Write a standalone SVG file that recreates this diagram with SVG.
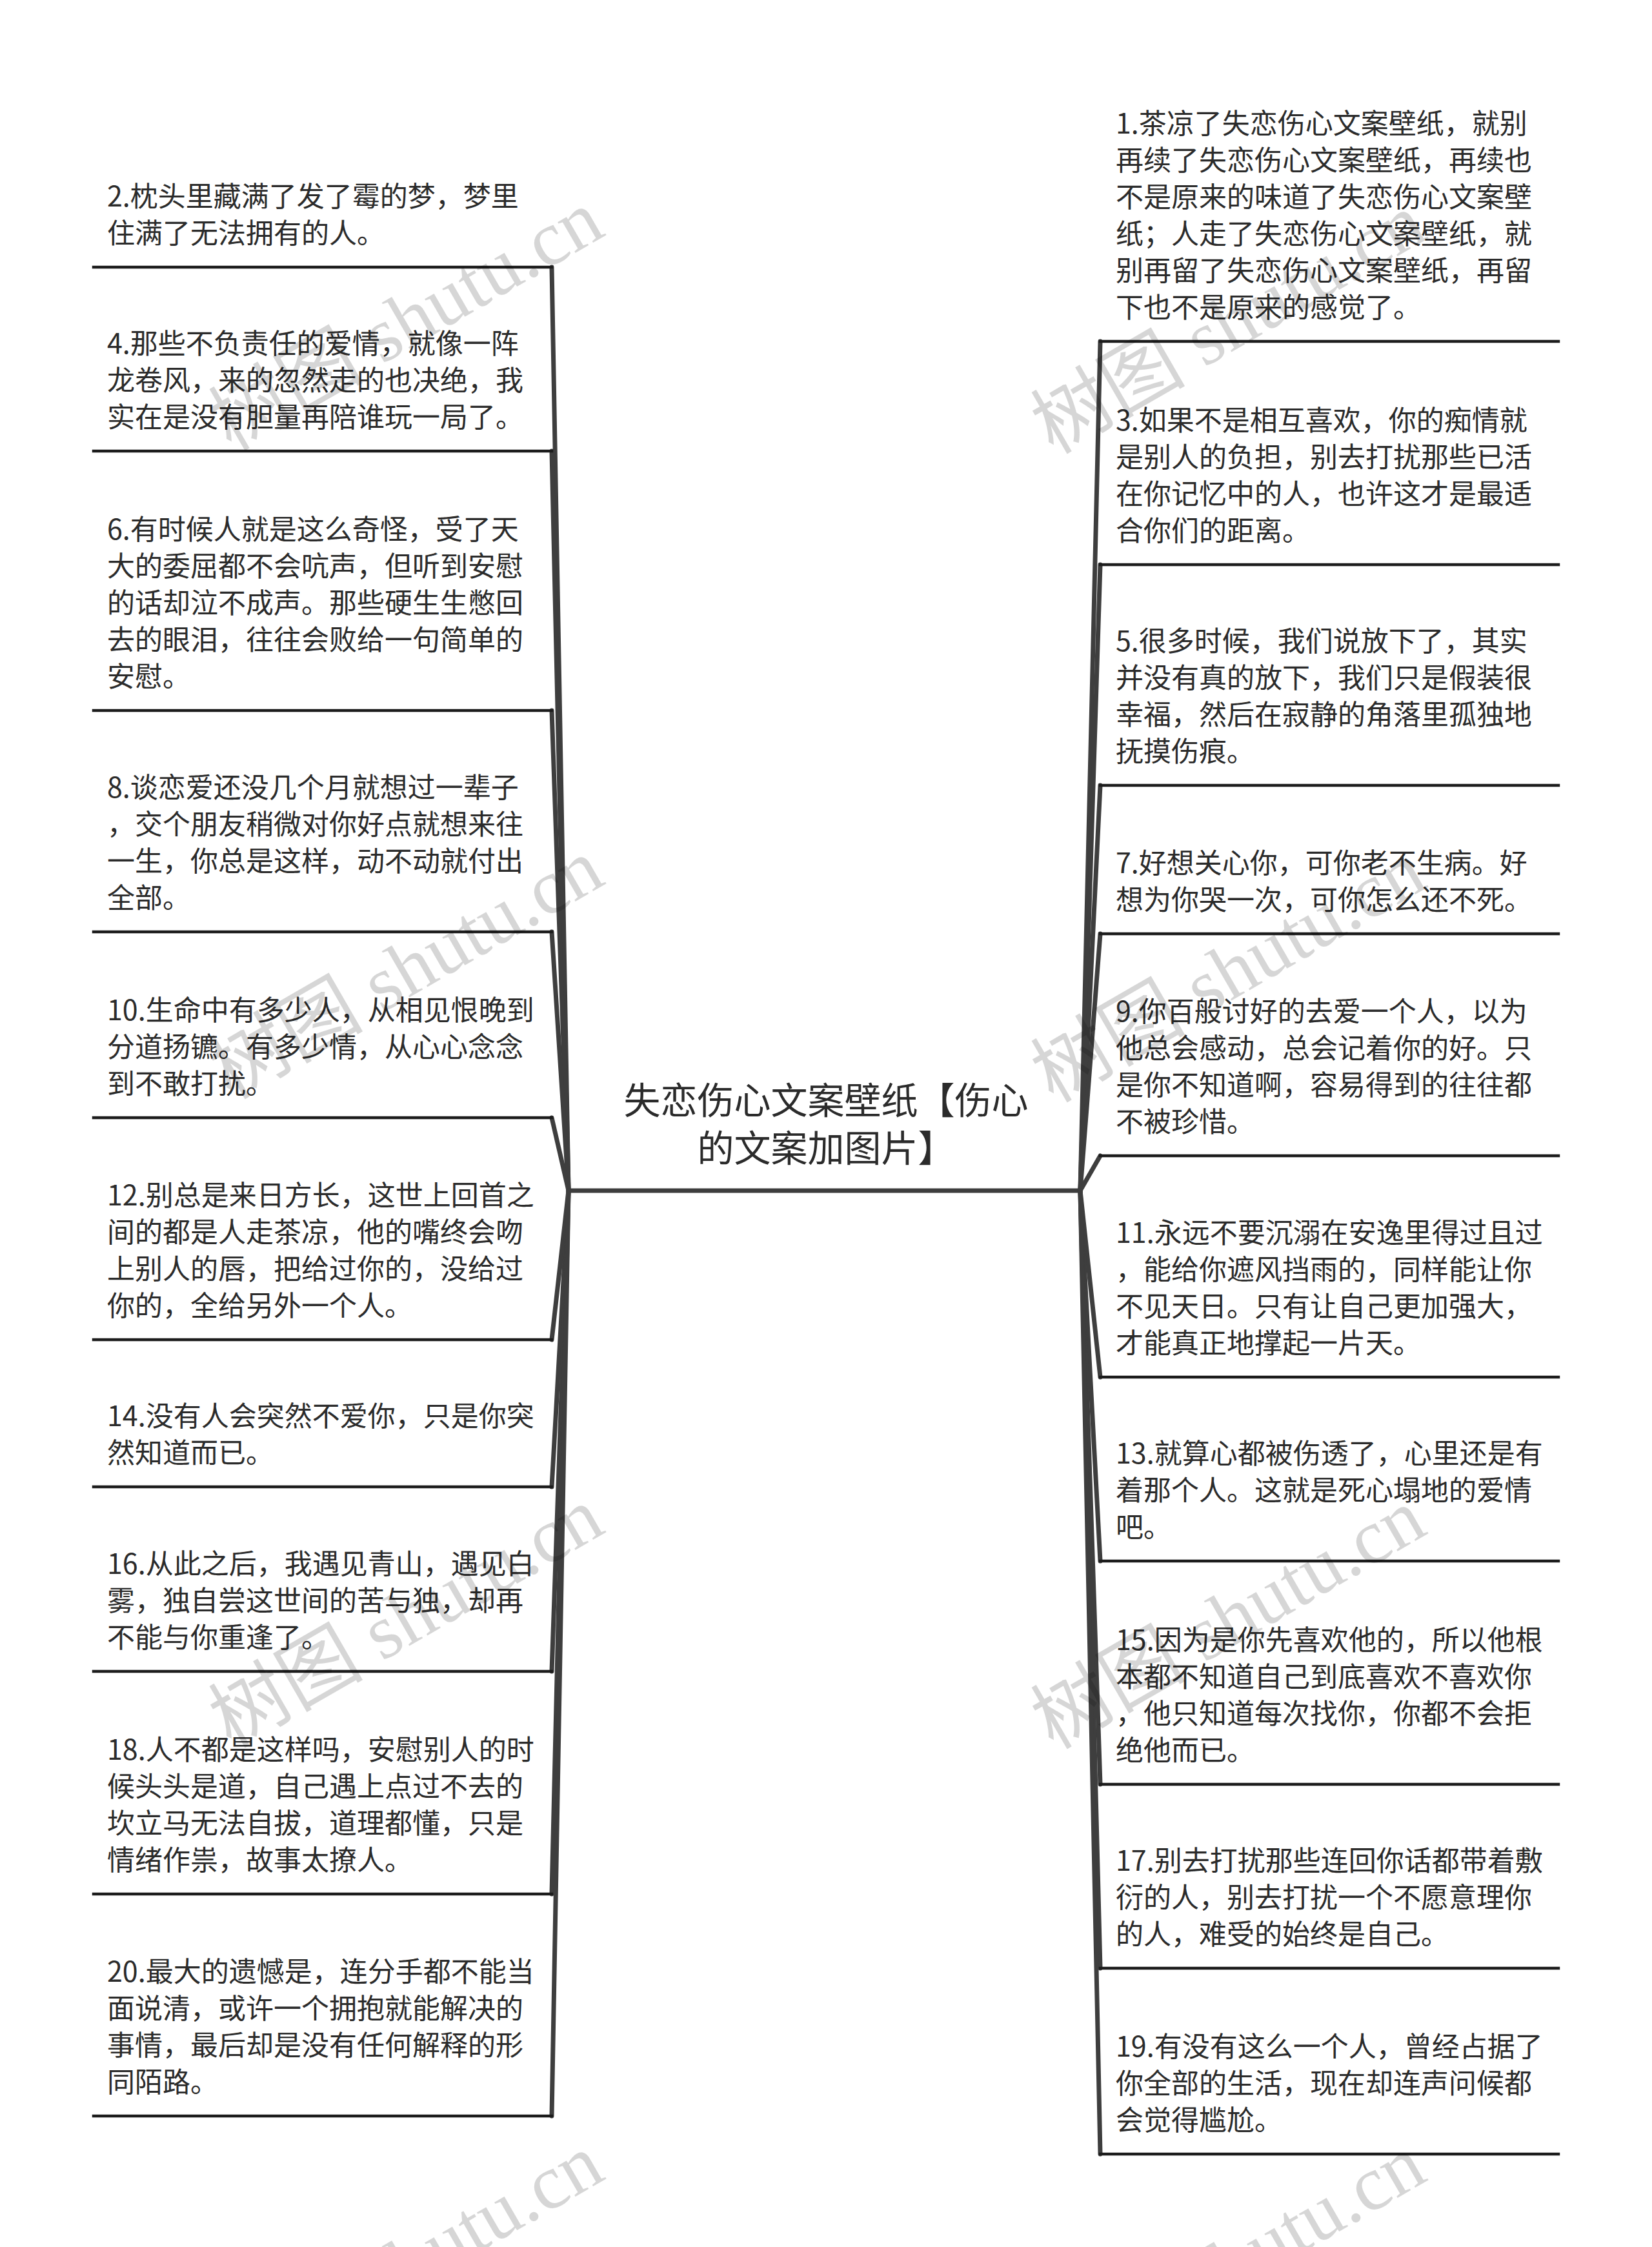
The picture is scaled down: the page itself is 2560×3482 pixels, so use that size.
<svg xmlns="http://www.w3.org/2000/svg" width="2560" height="3482" viewBox="0 0 2560 3482">
<style>
.bg{fill:#ffffff}
.t{font-family:"Noto Sans CJK SC","Noto Sans",sans-serif;font-size:43px;fill:#2b2b2b}
.tc{font-family:"Noto Sans CJK SC","Noto Sans",sans-serif;font-size:57px;fill:#2b2b2b;text-anchor:middle}
.ul{stroke:#1c1c1c;stroke-width:4.5;fill:none;stroke-linecap:square}
.cn{stroke:#3e3e3e;stroke-width:7;fill:none;stroke-linecap:round;stroke-linejoin:round}
.wm{font-family:"Liberation Serif","Noto Sans CJK SC",serif;font-size:120px;fill:#000;fill-opacity:0.16}
</style>
<rect class="bg" x="0" y="0" width="2560" height="3482"/>

<g id="connectors">
<path class="cn" d="M881,1845 L1674,1845"/>
<path class="cn" d="M855,414 L881,1845"/>
<path class="cn" d="M855,699 L881,1845"/>
<path class="cn" d="M855,1101 L881,1845"/>
<path class="cn" d="M855,1444 L881,1845"/>
<path class="cn" d="M855,1732 L881,1845"/>
<path class="cn" d="M855,2076 L881,1845"/>
<path class="cn" d="M855,2304 L881,1845"/>
<path class="cn" d="M855,2590 L881,1845"/>
<path class="cn" d="M855,2935 L881,1845"/>
<path class="cn" d="M855,3279 L881,1845"/>
<path class="cn" d="M1705,529 L1674,1845"/>
<path class="cn" d="M1705,875 L1674,1845"/>
<path class="cn" d="M1705,1217 L1674,1845"/>
<path class="cn" d="M1705,1447 L1674,1845"/>
<path class="cn" d="M1705,1791 L1674,1845"/>
<path class="cn" d="M1705,2134 L1674,1845"/>
<path class="cn" d="M1705,2419 L1674,1845"/>
<path class="cn" d="M1705,2765 L1674,1845"/>
<path class="cn" d="M1705,3050 L1674,1845"/>
<path class="cn" d="M1705,3338 L1674,1845"/>
</g>

<g id="node-center">
<text class="tc" x="1280" y="1726">失恋伤心文案壁纸【伤心</text>
<text class="tc" x="1280" y="1800">的文案加图片】</text>
</g>

<g id="node-2">
<text class="t"><tspan x="166" y="320">2.枕头里藏满了发了霉的梦，梦里</tspan><tspan x="166" y="377">住满了无法拥有的人。</tspan></text>
<line class="ul" x1="145" y1="414" x2="855" y2="414"/>
</g>
<g id="node-4">
<text class="t"><tspan x="166" y="548">4.那些不负责任的爱情，就像一阵</tspan><tspan x="166" y="605">龙卷风，来的忽然走的也决绝，我</tspan><tspan x="166" y="662">实在是没有胆量再陪谁玩一局了。</tspan></text>
<line class="ul" x1="145" y1="699" x2="855" y2="699"/>
</g>
<g id="node-6">
<text class="t"><tspan x="166" y="836">6.有时候人就是这么奇怪，受了天</tspan><tspan x="166" y="893">大的委屈都不会吭声，但听到安慰</tspan><tspan x="166" y="950">的话却泣不成声。那些硬生生憋回</tspan><tspan x="166" y="1007">去的眼泪，往往会败给一句简单的</tspan><tspan x="166" y="1064">安慰。</tspan></text>
<line class="ul" x1="145" y1="1101" x2="855" y2="1101"/>
</g>
<g id="node-8">
<text class="t"><tspan x="166" y="1236">8.谈恋爱还没几个月就想过一辈子</tspan><tspan x="166" y="1293">，交个朋友稍微对你好点就想来往</tspan><tspan x="166" y="1350">一生，你总是这样，动不动就付出</tspan><tspan x="166" y="1407">全部。</tspan></text>
<line class="ul" x1="145" y1="1444" x2="855" y2="1444"/>
</g>
<g id="node-10">
<text class="t"><tspan x="166" y="1581">10.生命中有多少人，从相见恨晚到</tspan><tspan x="166" y="1638">分道扬镳。有多少情，从心心念念</tspan><tspan x="166" y="1695">到不敢打扰。</tspan></text>
<line class="ul" x1="145" y1="1732" x2="855" y2="1732"/>
</g>
<g id="node-12">
<text class="t"><tspan x="166" y="1868">12.别总是来日方长，这世上回首之</tspan><tspan x="166" y="1925">间的都是人走茶凉，他的嘴终会吻</tspan><tspan x="166" y="1982">上别人的唇，把给过你的，没给过</tspan><tspan x="166" y="2039">你的，全给另外一个人。</tspan></text>
<line class="ul" x1="145" y1="2076" x2="855" y2="2076"/>
</g>
<g id="node-14">
<text class="t"><tspan x="166" y="2210">14.没有人会突然不爱你，只是你突</tspan><tspan x="166" y="2267">然知道而已。</tspan></text>
<line class="ul" x1="145" y1="2304" x2="855" y2="2304"/>
</g>
<g id="node-16">
<text class="t"><tspan x="166" y="2439">16.从此之后，我遇见青山，遇见白</tspan><tspan x="166" y="2496">雾，独自尝这世间的苦与独，却再</tspan><tspan x="166" y="2553">不能与你重逢了。</tspan></text>
<line class="ul" x1="145" y1="2590" x2="855" y2="2590"/>
</g>
<g id="node-18">
<text class="t"><tspan x="166" y="2727">18.人不都是这样吗，安慰别人的时</tspan><tspan x="166" y="2784">候头头是道，自己遇上点过不去的</tspan><tspan x="166" y="2841">坎立马无法自拔，道理都懂，只是</tspan><tspan x="166" y="2898">情绪作祟，故事太撩人。</tspan></text>
<line class="ul" x1="145" y1="2935" x2="855" y2="2935"/>
</g>
<g id="node-20">
<text class="t"><tspan x="166" y="3071">20.最大的遗憾是，连分手都不能当</tspan><tspan x="166" y="3128">面说清，或许一个拥抱就能解决的</tspan><tspan x="166" y="3185">事情，最后却是没有任何解释的形</tspan><tspan x="166" y="3242">同陌路。</tspan></text>
<line class="ul" x1="145" y1="3279" x2="855" y2="3279"/>
</g>

<g id="node-1">
<text class="t"><tspan x="1729" y="207">1.茶凉了失恋伤心文案壁纸，就别</tspan><tspan x="1729" y="264">再续了失恋伤心文案壁纸，再续也</tspan><tspan x="1729" y="321">不是原来的味道了失恋伤心文案壁</tspan><tspan x="1729" y="378">纸；人走了失恋伤心文案壁纸，就</tspan><tspan x="1729" y="435">别再留了失恋伤心文案壁纸，再留</tspan><tspan x="1729" y="492">下也不是原来的感觉了。</tspan></text>
<line class="ul" x1="1705" y1="529" x2="2415" y2="529"/>
</g>
<g id="node-3">
<text class="t"><tspan x="1729" y="667">3.如果不是相互喜欢，你的痴情就</tspan><tspan x="1729" y="724">是别人的负担，别去打扰那些已活</tspan><tspan x="1729" y="781">在你记忆中的人，也许这才是最适</tspan><tspan x="1729" y="838">合你们的距离。</tspan></text>
<line class="ul" x1="1705" y1="875" x2="2415" y2="875"/>
</g>
<g id="node-5">
<text class="t"><tspan x="1729" y="1009">5.很多时候，我们说放下了，其实</tspan><tspan x="1729" y="1066">并没有真的放下，我们只是假装很</tspan><tspan x="1729" y="1123">幸福，然后在寂静的角落里孤独地</tspan><tspan x="1729" y="1180">抚摸伤痕。</tspan></text>
<line class="ul" x1="1705" y1="1217" x2="2415" y2="1217"/>
</g>
<g id="node-7">
<text class="t"><tspan x="1729" y="1353">7.好想关心你，可你老不生病。好</tspan><tspan x="1729" y="1410">想为你哭一次，可你怎么还不死。</tspan></text>
<line class="ul" x1="1705" y1="1447" x2="2415" y2="1447"/>
</g>
<g id="node-9">
<text class="t"><tspan x="1729" y="1583">9.你百般讨好的去爱一个人，以为</tspan><tspan x="1729" y="1640">他总会感动，总会记着你的好。只</tspan><tspan x="1729" y="1697">是你不知道啊，容易得到的往往都</tspan><tspan x="1729" y="1754">不被珍惜。</tspan></text>
<line class="ul" x1="1705" y1="1791" x2="2415" y2="1791"/>
</g>
<g id="node-11">
<text class="t"><tspan x="1729" y="1926">11.永远不要沉溺在安逸里得过且过</tspan><tspan x="1729" y="1983">，能给你遮风挡雨的，同样能让你</tspan><tspan x="1729" y="2040">不见天日。只有让自己更加强大，</tspan><tspan x="1729" y="2097">才能真正地撑起一片天。</tspan></text>
<line class="ul" x1="1705" y1="2134" x2="2415" y2="2134"/>
</g>
<g id="node-13">
<text class="t"><tspan x="1729" y="2268">13.就算心都被伤透了，心里还是有</tspan><tspan x="1729" y="2325">着那个人。这就是死心塌地的爱情</tspan><tspan x="1729" y="2382">吧。</tspan></text>
<line class="ul" x1="1705" y1="2419" x2="2415" y2="2419"/>
</g>
<g id="node-15">
<text class="t"><tspan x="1729" y="2557">15.因为是你先喜欢他的，所以他根</tspan><tspan x="1729" y="2614">本都不知道自己到底喜欢不喜欢你</tspan><tspan x="1729" y="2671">，他只知道每次找你，你都不会拒</tspan><tspan x="1729" y="2728">绝他而已。</tspan></text>
<line class="ul" x1="1705" y1="2765" x2="2415" y2="2765"/>
</g>
<g id="node-17">
<text class="t"><tspan x="1729" y="2899">17.别去打扰那些连回你话都带着敷</tspan><tspan x="1729" y="2956">衍的人，别去打扰一个不愿意理你</tspan><tspan x="1729" y="3013">的人，难受的始终是自己。</tspan></text>
<line class="ul" x1="1705" y1="3050" x2="2415" y2="3050"/>
</g>
<g id="node-19">
<text class="t"><tspan x="1729" y="3187">19.有没有这么一个人，曾经占据了</tspan><tspan x="1729" y="3244">你全部的生活，现在却连声问候都</tspan><tspan x="1729" y="3301">会觉得尴尬。</tspan></text>
<line class="ul" x1="1705" y1="3338" x2="2415" y2="3338"/>
</g>

<g id="watermarks">
<text class="wm" transform="translate(358,700) rotate(-30)">树图 shutu.cn</text>
<text class="wm" transform="translate(1632,705) rotate(-30)">树图 shutu.cn</text>
<text class="wm" transform="translate(358,1705) rotate(-30)">树图 shutu.cn</text>
<text class="wm" transform="translate(1632,1710) rotate(-30)">树图 shutu.cn</text>
<text class="wm" transform="translate(358,2710) rotate(-30)">树图 shutu.cn</text>
<text class="wm" transform="translate(1632,2712) rotate(-30)">树图 shutu.cn</text>
<text class="wm" transform="translate(358,3712) rotate(-30)">树图 shutu.cn</text>
<text class="wm" transform="translate(1632,3714) rotate(-30)">树图 shutu.cn</text>
</g>
</svg>
